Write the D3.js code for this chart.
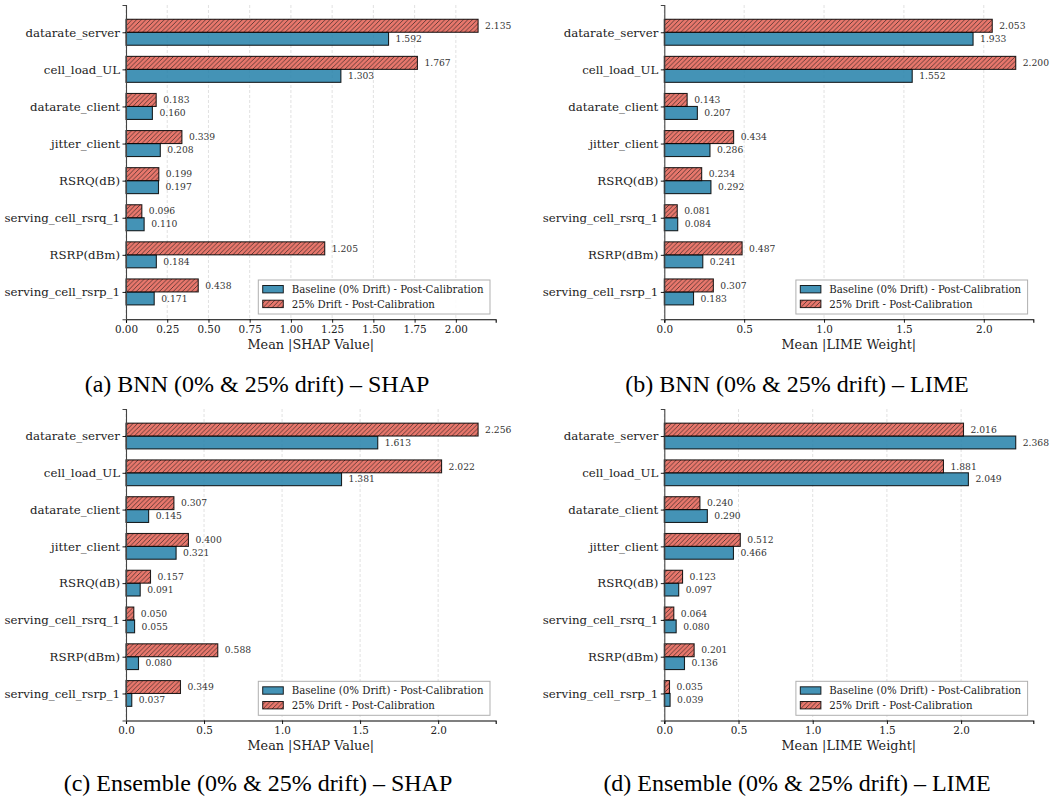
<!DOCTYPE html>
<html>
<head>
<meta charset="utf-8">
<script src="https://cdn.jsdelivr.net/npm/d3@7"></script>
<style>
  html, body { margin: 0; padding: 0; background: #fff; }
  svg { display: block; }
</style>
</head>
<body>
<svg id="fig" width="1050" height="797"></svg>
<script>
// Feature names, top to bottom
const features = ["datarate_server", "cell_load_UL", "datarate_client", "jitter_client",
                  "RSRQ(dB)", "serving_cell_rsrq_1", "RSRP(dBm)", "serving_cell_rsrp_1"];

// Mean importance per feature
const bnnShapBase   = [1.592, 1.303, 0.160, 0.208, 0.197, 0.110, 0.184, 0.171];
const bnnShapDrift  = [2.135, 1.767, 0.183, 0.339, 0.199, 0.096, 1.205, 0.438];
const bnnLimeBase   = [1.933, 1.552, 0.207, 0.286, 0.292, 0.084, 0.241, 0.183];
const bnnLimeDrift  = [2.053, 2.200, 0.143, 0.434, 0.234, 0.081, 0.487, 0.307];
const ensShapBase   = [1.613, 1.381, 0.145, 0.321, 0.091, 0.055, 0.080, 0.037];
const ensShapDrift  = [2.256, 2.022, 0.307, 0.400, 0.157, 0.050, 0.588, 0.349];
const ensLimeBase   = [2.368, 2.049, 0.290, 0.466, 0.097, 0.080, 0.136, 0.039];
const ensLimeDrift  = [2.016, 1.881, 0.240, 0.512, 0.123, 0.064, 0.201, 0.035];

// Tick values for each x axis
const ticksQuarter = [0, 0.25, 0.5, 0.75, 1.0, 1.25, 1.5, 1.75, 2.0];
const ticksHalf    = [0, 0.5, 1.0, 1.5, 2.0];

const seriesNames = ["Baseline (0% Drift) - Post-Calibration", "25% Drift - Post-Calibration"];

const captions = [
  "(a) BNN (0% & 25% drift) \u2013 SHAP",
  "(b) BNN (0% & 25% drift) \u2013 LIME",
  "(c) Ensemble (0% & 25% drift) \u2013 SHAP",
  "(d) Ensemble (0% & 25% drift) \u2013 LIME"
];

const panels = [
  { base: bnnShapBase, drift: bnnShapDrift, ticks: ticksQuarter, fmt: ".2f", xlabel: "Mean |SHAP Value|",
    box: { l: 126, r: 495.7, t: 5, b: 319.2 }, cap: { x: 257, y: 392 }, caption: captions[0] },
  { base: bnnLimeBase, drift: bnnLimeDrift, ticks: ticksHalf, fmt: ".1f", xlabel: "Mean |LIME Weight|",
    box: { l: 664.3, r: 1033.3, t: 5, b: 319.2 }, cap: { x: 797, y: 392 }, caption: captions[1] },
  { base: ensShapBase, drift: ensShapDrift, ticks: ticksHalf, fmt: ".1f", xlabel: "Mean |SHAP Value|",
    box: { l: 126, r: 495.7, t: 409, b: 720.5 }, cap: { x: 258, y: 791 }, caption: captions[2] },
  { base: ensLimeBase, drift: ensLimeDrift, ticks: ticksHalf, fmt: ".1f", xlabel: "Mean |LIME Weight|",
    box: { l: 664.3, r: 1033.3, t: 409, b: 720.5 }, cap: { x: 797, y: 791 }, caption: captions[3] }
];

const BLUE = "#2380a9";
const RED = "#e45f52";
const SERIF = "'DejaVu Serif', serif";
const TIMES = "'Liberation Serif', 'Times New Roman', serif";
const barH = 0.35;

const svg = d3.select("#fig");

// Diagonal hatch for the drift series
const defs = svg.append("defs");
const pat = defs.append("pattern")
  .attr("id", "hatch").attr("patternUnits", "userSpaceOnUse")
  .attr("width", 4.6).attr("height", 4.6);
pat.append("path")
  .attr("d", "M-1,1 L1,-1 M0,4.6 L4.6,0 M3.6,5.6 L5.6,3.6")
  .attr("stroke", "#1a1a1a").attr("stroke-opacity", 0.8).attr("stroke-width", 0.8);

panels.forEach(p => {
  const { l, r, t, b } = p.box;
  const xmax = d3.max(p.base.concat(p.drift)) * 1.05;
  const x = d3.scaleLinear().domain([0, xmax]).range([l, r]);
  const y = d3.scaleLinear().domain([-0.735, features.length - 1 + 0.735]).range([t, b]);
  const g = svg.append("g");

  // grid
  g.append("g").selectAll("line").data(p.ticks).join("line")
    .attr("x1", d => x(d)).attr("x2", d => x(d)).attr("y1", t).attr("y2", b)
    .attr("stroke", "#cfcfcf").attr("stroke-width", 0.8).attr("stroke-dasharray", "3,2")
    .attr("stroke-opacity", 0.8);

  // baseline bars (below each tick)
  g.append("g").selectAll("rect").data(p.base).join("rect")
    .attr("x", x(0)).attr("y", (d, i) => y(i))
    .attr("width", d => x(d) - x(0)).attr("height", y(barH) - y(0))
    .attr("fill", BLUE).attr("fill-opacity", 0.85)
    .attr("stroke", "#000").attr("stroke-opacity", 0.85).attr("stroke-width", 1.1);

  // drift bars (above each tick)
  const dg = g.append("g");
  dg.selectAll("rect.f").data(p.drift).join("rect").attr("class", "f")
    .attr("x", x(0)).attr("y", (d, i) => y(i - barH))
    .attr("width", d => x(d) - x(0)).attr("height", y(barH) - y(0))
    .attr("fill", RED).attr("fill-opacity", 0.85);
  dg.selectAll("rect.h").data(p.drift).join("rect").attr("class", "h")
    .attr("x", x(0)).attr("y", (d, i) => y(i - barH))
    .attr("width", d => x(d) - x(0)).attr("height", y(barH) - y(0))
    .attr("fill", "url(#hatch)")
    .attr("stroke", "#000").attr("stroke-opacity", 0.85).attr("stroke-width", 1.1);

  // value labels
  const fmt3 = d3.format(".3f");
  g.append("g").selectAll("text").data(p.drift).join("text")
    .attr("x", d => x(d) + 7).attr("y", (d, i) => y(i - barH / 2))
    .attr("dy", "0.35em").attr("font-family", SERIF).attr("font-size", 9.2).attr("fill", "#333")
    .text(d => fmt3(d));
  g.append("g").selectAll("text").data(p.base).join("text")
    .attr("x", d => x(d) + 7).attr("y", (d, i) => y(i + barH / 2))
    .attr("dy", "0.35em").attr("font-family", SERIF).attr("font-size", 9.2).attr("fill", "#333")
    .text(d => fmt3(d));

  // x axis
  const xa = g.append("g").attr("transform", `translate(0,${b})`)
    .call(d3.axisBottom(x).tickValues(p.ticks).tickFormat(d3.format(p.fmt)).tickSizeOuter(0).tickSize(3.5).tickPadding(2.5));
  xa.attr("font-family", SERIF);
  xa.select(".domain").attr("stroke", "#000").attr("stroke-width", 1.1);
  xa.selectAll(".tick line").attr("stroke", "#000").attr("stroke-width", 0.9);
  xa.selectAll("text").attr("font-family", SERIF).attr("font-size", 10.4).attr("fill", "#222");

  // y axis
  const ys = d3.scaleLinear().domain(y.domain()).range(y.range());
  const ya = g.append("g").attr("transform", `translate(${l},0)`)
    .call(d3.axisLeft(ys).tickValues(d3.range(features.length)).tickFormat(i => features[i])
      .tickSizeOuter(0).tickSize(3.5).tickPadding(2.5));
  ya.attr("font-family", SERIF);
  ya.select(".domain").attr("stroke", "#444").attr("stroke-width", 1.1);
  ya.selectAll(".tick line").attr("stroke", "#000").attr("stroke-width", 0.9);
  ya.selectAll("text").attr("font-family", SERIF).attr("font-size", 11.8).attr("fill", "#222");

  // x label
  g.append("text").attr("x", (l + r) / 2).attr("y", b + 25).attr("dy", "0.35em")
    .attr("text-anchor", "middle").attr("font-family", SERIF).attr("font-size", 12.8).attr("fill", "#222")
    .text(p.xlabel);

  // legend (lower right)
  const lw = 231.7, lh = 34;
  const lx = r - 5.7 - lw, ly = b - 5.2 - lh;
  const lg = g.append("g").attr("transform", `translate(${lx},${ly})`);
  lg.append("rect").attr("width", lw).attr("height", lh)
    .attr("fill", "#fff").attr("fill-opacity", 0.9).attr("stroke", "#b0b0b0").attr("stroke-width", 1);
  [0, 1].forEach(k => {
    const cy = 9.3 + k * 14.7;
    if (k === 0) {
      lg.append("rect").attr("x", 4.4).attr("y", cy - 3.8).attr("width", 20.6).attr("height", 7.4)
        .attr("fill", BLUE).attr("fill-opacity", 0.85).attr("stroke", "#000").attr("stroke-opacity", 0.85);
    } else {
      lg.append("rect").attr("x", 4.4).attr("y", cy - 3.8).attr("width", 20.6).attr("height", 7.4)
        .attr("fill", RED).attr("fill-opacity", 0.85);
      lg.append("rect").attr("x", 4.4).attr("y", cy - 3.8).attr("width", 20.6).attr("height", 7.4)
        .attr("fill", "url(#hatch)").attr("stroke", "#000").attr("stroke-opacity", 0.85);
    }
    lg.append("text").attr("x", 33.4).attr("y", cy).attr("dy", "0.35em")
      .attr("font-family", SERIF).attr("font-size", 10.2).attr("fill", "#222")
      .text(seriesNames[k]);
  });

  // caption
  svg.append("text").attr("x", p.cap.x).attr("y", p.cap.y).attr("text-anchor", "middle")
    .attr("font-family", TIMES).attr("font-size", 24).attr("fill", "#000")
    .text(p.caption);
});
</script>
</body>
</html>
